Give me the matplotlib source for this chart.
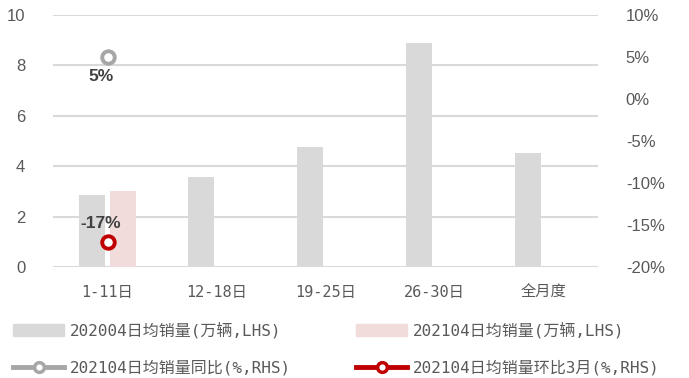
import numpy as np
import matplotlib.pyplot as plt
from matplotlib.lines import Line2D
from matplotlib.patches import Patch

plt.rcParams['font.family'] = ['Liberation Sans', 'Noto Sans CJK SC', 'DejaVu Sans']
mono = ['DejaVu Sans Mono', 'Noto Sans CJK SC', 'DejaVu Sans']

categories = ['1-11日', '12-18日', '19-25日', '26-30日', '全月度']
sales_2020 = [2.86, 3.57, 4.76, 8.89, 4.52]
sales_2021 = [3.02, None, None, None, None]
yoy_2021 = [5]      # %, RHS
mom_2021 = [-17]    # %, RHS

grey = '#d9d9d9'
pink = '#f2dcdb'
yoy_col = '#a6a6a6'
mom_col = '#c00000'
txt = '#595959'

fig = plt.figure(figsize=(6.89, 3.78), dpi=100)
ax = fig.add_axes([53 / 689, 1 - 267 / 378, 545 / 689, 252 / 378])
ax2 = ax.twinx()

x = np.arange(len(categories))
w = 0.24
ax.bar(x - 0.145, sales_2020, width=w, color=grey, zorder=2)
v21 = [np.nan if v is None else v for v in sales_2021]
ax.bar(x + 0.145, v21, width=w, color=pink, zorder=2)

ax.set_ylim(0, 10)
ax.set_yticks(range(0, 11, 2))
ax.set_xlim(-0.5, len(categories) - 0.5)
ax.set_xticks(x)
ax.set_xticklabels(categories, family=mono, fontsize=11)
ax.yaxis.grid(True, color=grey, lw=1.5, zorder=0)
ax.set_axisbelow(True)

ax2.set_ylim(-20, 10)
ax2.set_yticks(range(-20, 11, 5))
ax2.set_yticklabels([f'{v}%' for v in range(-20, 11, 5)])

ax2.plot(x[:len(yoy_2021)], yoy_2021, 'o', ms=9, mfc='white', mec=yoy_col, mew=2.8, zorder=5)
ax2.plot(x[:len(mom_2021)], mom_2021, 'o', ms=9, mfc='white', mec=mom_col, mew=2.8, zorder=5)
for xi, v in zip(x, yoy_2021):
    ax2.annotate(f'{v}%', (xi, v), xytext=(-5, -14), textcoords='offset points',
                 ha='center', va='center', fontsize=12.5, fontweight='bold', color='#404040')
for xi, v in zip(x, mom_2021):
    ax2.annotate(f'{v}%', (xi, v), xytext=(-5, 13), textcoords='offset points',
                 ha='center', va='center', fontsize=12.5, fontweight='bold', color='#404040')

for a in (ax, ax2):
    for s in a.spines.values():
        s.set_visible(False)
    a.tick_params(length=0, labelsize=12, labelcolor=txt)
ax.tick_params(axis='x', pad=13, labelsize=11)
ax.tick_params(axis='y', pad=20)
ax2.tick_params(axis='y', pad=20)

handles = [
    Patch(color=grey),
    Patch(color=pink),
    Line2D([], [], color=yoy_col, lw=3.5, marker='o', ms=7, mfc='white', mec=yoy_col, mew=2.5),
    Line2D([], [], color=mom_col, lw=3.5, marker='o', ms=7, mfc='white', mec=mom_col, mew=2.5),
]
labels = ['202004日均销量(万辆,LHS)', '202104日均销量(万辆,LHS)',
          '202104日均销量同比(%,RHS)', '202104日均销量环比3月(%,RHS)']
legend_kw = dict(loc='upper left', frameon=False, labelcolor=txt,
                 prop={'family': mono, 'size': 11.5}, handlelength=3.2,
                 handleheight=0.8, labelspacing=1.35, handletextpad=0.35,
                 borderaxespad=0, borderpad=0)
fig.legend([handles[0], handles[2]], [labels[0], labels[2]],
           bbox_to_anchor=(13 / 689, 1 - 322 / 378), **legend_kw)
fig.legend([handles[1], handles[3]], [labels[1], labels[3]],
           bbox_to_anchor=(356 / 689, 1 - 322 / 378), **legend_kw)

fig.savefig('out.png', dpi=100)
